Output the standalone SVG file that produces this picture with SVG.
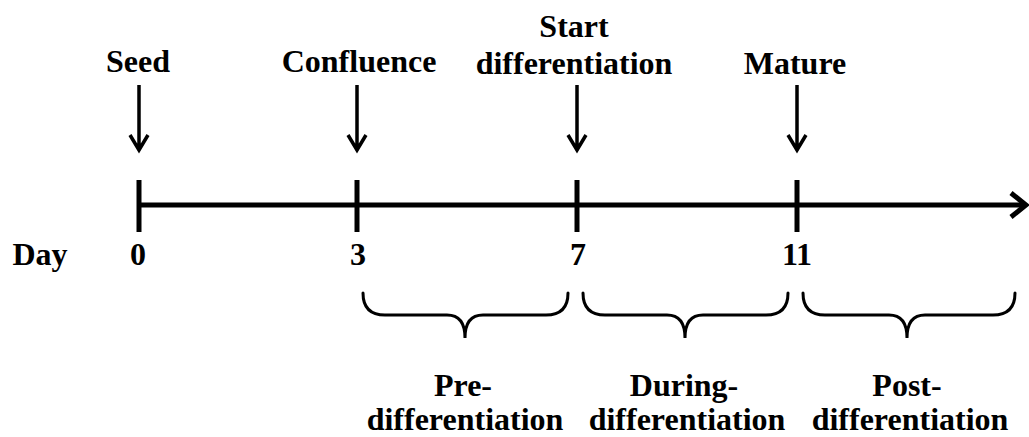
<svg xmlns="http://www.w3.org/2000/svg" width="1029" height="437" viewBox="0 0 1029 437">
  <defs>
    <style>
      .lbl { font-family: 'Liberation Serif', 'Times New Roman', serif; font-weight: 700; font-size: 32px; fill: #000; text-anchor: middle; }
      .axis { stroke: #000; stroke-width: 5; fill: none; }
      .tick { stroke: #000; stroke-width: 5; fill: none; }
      .pointer { stroke: #000; stroke-width: 3.5; fill: none; }
      .brace { stroke: #000; stroke-width: 3; fill: none; stroke-linecap: round; }
    </style>
  </defs>
  <rect width="1029" height="437" fill="#fff"/>

  <!-- timeline axis with open arrowhead -->
  <g id="connectors">
    <line class="axis" x1="137" y1="205" x2="1025" y2="205"/>
    <polyline class="axis" points="1011,193 1026,205 1011,217"/>
    <!-- event pointers -->
    <g id="pointers">
      <path class="pointer" d="M139,85 V150 M130,135 L139,150 L148,135"/>
      <path class="pointer" d="M357,85 V150 M348,135 L357,150 L366,135"/>
      <path class="pointer" d="M577,85 V150 M568,135 L577,150 L586,135"/>
      <path class="pointer" d="M797,85 V150 M788,135 L797,150 L806,135"/>
    </g>
  </g>

  <!-- day ticks -->
  <g id="day0">
    <line class="tick" x1="139" y1="180" x2="139" y2="232"/>
    <text class="lbl" x="138" y="265">0</text>
  </g>
  <g id="day3">
    <line class="tick" x1="357" y1="180" x2="357" y2="232"/>
    <text class="lbl" x="358" y="265">3</text>
  </g>
  <g id="day7">
    <line class="tick" x1="577" y1="180" x2="577" y2="232"/>
    <text class="lbl" x="578" y="265">7</text>
  </g>
  <g id="day11">
    <line class="tick" x1="797" y1="180" x2="797" y2="232"/>
    <text class="lbl" x="797" y="265">11</text>
  </g>
  <g id="day-label">
    <text class="lbl" x="40" y="265">Day</text>
  </g>

  <!-- event labels -->
  <g id="seed"><text class="lbl" x="138" y="72">Seed</text></g>
  <g id="confluence"><text class="lbl" x="359" y="72">Confluence</text></g>
  <g id="start-differentiation">
    <text class="lbl" x="574" y="37">Start</text>
    <text class="lbl" x="574" y="74">differentiation</text>
  </g>
  <g id="mature"><text class="lbl" x="795" y="74">Mature</text></g>

  <!-- phase braces -->
  <g id="pre-differentiation">
    <path class="brace" d="M363,293 Q363,315 385,315 L447,315 Q465,315 465,338 Q465,315 483,315 L546,315 Q568,315 568,293"/>
    <text class="lbl" x="463" y="396">Pre-</text>
    <text class="lbl" x="465" y="430">differentiation</text>
  </g>
  <g id="during-differentiation">
    <path class="brace" d="M583,293 Q583,315 605,315 L667,315 Q685,315 685,338 Q685,315 703,315 L766,315 Q788,315 788,293"/>
    <text class="lbl" x="684" y="396">During-</text>
    <text class="lbl" x="687" y="430">differentiation</text>
  </g>
  <g id="post-differentiation">
    <path class="brace" d="M803,293 Q803,315 825,315 L889,315 Q907,315 907,338 Q907,315 925,315 L993,315 Q1015,315 1015,293"/>
    <text class="lbl" x="907" y="396">Post-</text>
    <text class="lbl" x="910" y="430">differentiation</text>
  </g>
</svg>
